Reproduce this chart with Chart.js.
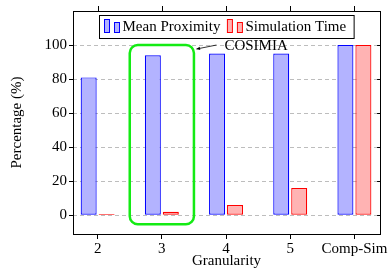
<!DOCTYPE html>
<html>
<head>
<meta charset="utf-8">
<script src="https://cdn.jsdelivr.net/npm/chart.js@4/dist/chart.umd.min.js"></script>
<style>
  html, body { margin: 0; padding: 0; background: #fff; }
</style>
</head>
<body>
<canvas id="chart" width="389" height="273"></canvas>
<script>
const categories = ['2', '3', '4', '5', 'Comp-Sim'];
const meanProximity = [81, 94, 95, 95, 100];
const simulationTime = [0.8, 2, 6, 16, 100];
const yTicks = [0, 20, 40, 60, 80, 100];
const highlightIndex = 1;
const highlightLabel = 'COSIMIA';

function toPoints(arr) {
  return arr.map((v, i) => ({ x: i, y: v }));
}

// frame + mirrored ticks (pgfplots style box)
const framePlugin = {
  id: 'framePlugin',
  afterDatasetsDraw(chart) {
    const ctx = chart.ctx;
    const ca = chart.chartArea;
    const xs = chart.scales.x, ys = chart.scales.y;
    ctx.save();
    ctx.strokeStyle = '#000';
    ctx.lineWidth = 1;
    ctx.strokeRect(Math.round(ca.left) + 0.5, Math.round(ca.top) + 0.5,
      Math.round(ca.right - ca.left), Math.round(ca.bottom - ca.top));
    ctx.beginPath();
    xs.ticks.forEach(t => {
      const px = Math.round(xs.getPixelForValue(t.value)) + 0.5;
      ctx.moveTo(px, ca.top);
      ctx.lineTo(px, ca.top - 5);
    });
    ys.ticks.forEach(t => {
      const py = Math.round(ys.getPixelForValue(t.value)) + 0.5;
      ctx.moveTo(ca.right, py);
      ctx.lineTo(ca.right - 3, py);
    });
    ctx.stroke();
    ctx.restore();
  }
};

// green box around the highlighted category + arrow label
const highlightPlugin = {
  id: 'highlightPlugin',
  afterDatasetsDraw(chart) {
    const ctx = chart.ctx;
    const xs = chart.scales.x, ys = chart.scales.y;
    const x0 = xs.getPixelForValue(highlightIndex - 0.5);
    const x1 = xs.getPixelForValue(highlightIndex + 0.5);
    const y0 = ys.getPixelForValue(100);
    const y1 = ys.getPixelForValue(-5.2);
    ctx.save();
    ctx.strokeStyle = 'rgb(20,235,20)';
    ctx.lineWidth = 2.5;
    ctx.beginPath();
    ctx.roundRect(x0, y0, x1 - x0, y1 - y0, 8);
    ctx.stroke();

    // arrow
    const tipX = x1 + 2.5, tipY = y0 + 4;
    const tailX = tipX + 20, tailY = tipY - 4;
    ctx.strokeStyle = '#000';
    ctx.fillStyle = '#000';
    ctx.lineWidth = 0.8;
    ctx.beginPath();
    ctx.moveTo(tailX, tailY);
    ctx.lineTo(tipX, tipY);
    ctx.stroke();
    const ang = Math.atan2(tipY - tailY, tipX - tailX);
    ctx.beginPath();
    ctx.moveTo(tipX, tipY);
    ctx.lineTo(tipX - 4 * Math.cos(ang - 0.45), tipY - 4 * Math.sin(ang - 0.45));
    ctx.lineTo(tipX - 4 * Math.cos(ang + 0.45), tipY - 4 * Math.sin(ang + 0.45));
    ctx.closePath();
    ctx.fill();

    ctx.font = "15px 'Liberation Serif', 'Times New Roman', serif";
    ctx.textBaseline = 'middle';
    ctx.textAlign = 'left';
    ctx.fillText(highlightLabel, tailX + 8, tailY + 1);
    ctx.restore();
  }
};

// legend inside the axis box, with the two-bar ybar legend marks
const boxLegendPlugin = {
  id: 'boxLegendPlugin',
  afterDatasetsDraw(chart) {
    const ctx = chart.ctx;
    const ca = chart.chartArea;
    ctx.save();
    ctx.font = "15px 'Liberation Serif', 'Times New Roman', serif";
    const items = chart.data.datasets.map(ds => ({
      label: ds.label, fill: ds.backgroundColor, stroke: ds.borderColor,
      w: ctx.measureText(ds.label).width
    }));
    const markW = 5, markGap = 5, textGap = 3, itemGap = 7, padL = 5, padR = 8;
    let total = padL + padR;
    items.forEach((it, i) => {
      total += markW * 2 + markGap + textGap + it.w + (i > 0 ? itemGap : 0);
    });
    const left = Math.round((ca.left + ca.right) / 2 - total / 2) + 0.5;
    const top = Math.round(ca.top + 4) + 0.5;
    const h = 23;
    ctx.fillStyle = '#fff';
    ctx.strokeStyle = '#000';
    ctx.lineWidth = 1;
    ctx.fillRect(left, top, total, h);
    ctx.strokeRect(left, top, total, h);
    let x = left + padL;
    const baseY = top + 17;
    items.forEach((it, i) => {
      if (i > 0) x += itemGap;
      ctx.fillStyle = it.fill;
      ctx.strokeStyle = it.stroke;
      ctx.fillRect(x, baseY - 13, markW, 13);
      ctx.strokeRect(x, baseY - 13, markW, 13);
      x += markW + markGap;
      ctx.fillRect(x, baseY - 10, markW, 10);
      ctx.strokeRect(x, baseY - 10, markW, 10);
      x += markW + textGap;
      ctx.fillStyle = '#000';
      ctx.textBaseline = 'middle';
      ctx.fillText(it.label, x, top + h / 2 + 0.5);
      x += it.w;
    });
    ctx.restore();
  }
};

Chart.defaults.font.family = "'Liberation Serif', 'Times New Roman', serif";
Chart.defaults.font.size = 15;
Chart.defaults.color = '#000';

new Chart(document.getElementById('chart'), {
  type: 'bar',
  data: {
    datasets: [{
      label: 'Mean Proximity',
      data: toPoints(meanProximity),
      backgroundColor: 'rgb(179,179,255)',
      borderColor: 'rgb(0,0,255)',
      borderWidth: 1.2,
      borderSkipped: false
    }, {
      label: 'Simulation Time',
      data: toPoints(simulationTime),
      backgroundColor: 'rgb(255,179,179)',
      borderColor: 'rgb(255,0,0)',
      borderWidth: 1.2,
      borderSkipped: false
    }]
  },
  options: {
    responsive: false,
    animation: false,
    devicePixelRatio: 1,
    categoryPercentage: 0.56,
    barPercentage: 0.89,
    layout: { padding: { top: 9, right: 8, left: 0, bottom: 0 } },
    plugins: {
      legend: { display: false },
      tooltip: { enabled: false }
    },
    scales: {
      x: {
        type: 'linear',
        offset: false,
        min: -0.384,
        max: 4.4,
        afterBuildTicks: s => { s.ticks = categories.map((c, i) => ({ value: i })); },
        afterFit: s => { s.height = 39; },
        ticks: {
          callback: v => categories[v],
          autoSkip: false,
          maxRotation: 0,
          padding: 1
        },
        grid: { offset: false, drawOnChartArea: false, tickLength: 5, tickColor: '#000' },
        border: { display: false },
        title: {
          display: true,
          text: 'Granularity',
          font: { lineHeight: 1 },
          padding: { top: 0, bottom: 4 }
        }
      },
      y: {
        min: -11,
        max: 120,
        afterBuildTicks: s => { s.ticks = yTicks.map(v => ({ value: v })); },
        afterFit: s => { s.width = 73; },
        ticks: { padding: 2 },
        grid: { color: '#bdbdbd', tickColor: '#000', tickLength: 4, tickBorderDash: [] },
        border: { display: false, dash: [4, 3] },
        title: {
          display: true,
          text: 'Percentage (%)',
          padding: { top: 8, bottom: 0 }
        }
      }
    }
  },
  plugins: [framePlugin, highlightPlugin, boxLegendPlugin]
});
</script>
</body>
</html>
